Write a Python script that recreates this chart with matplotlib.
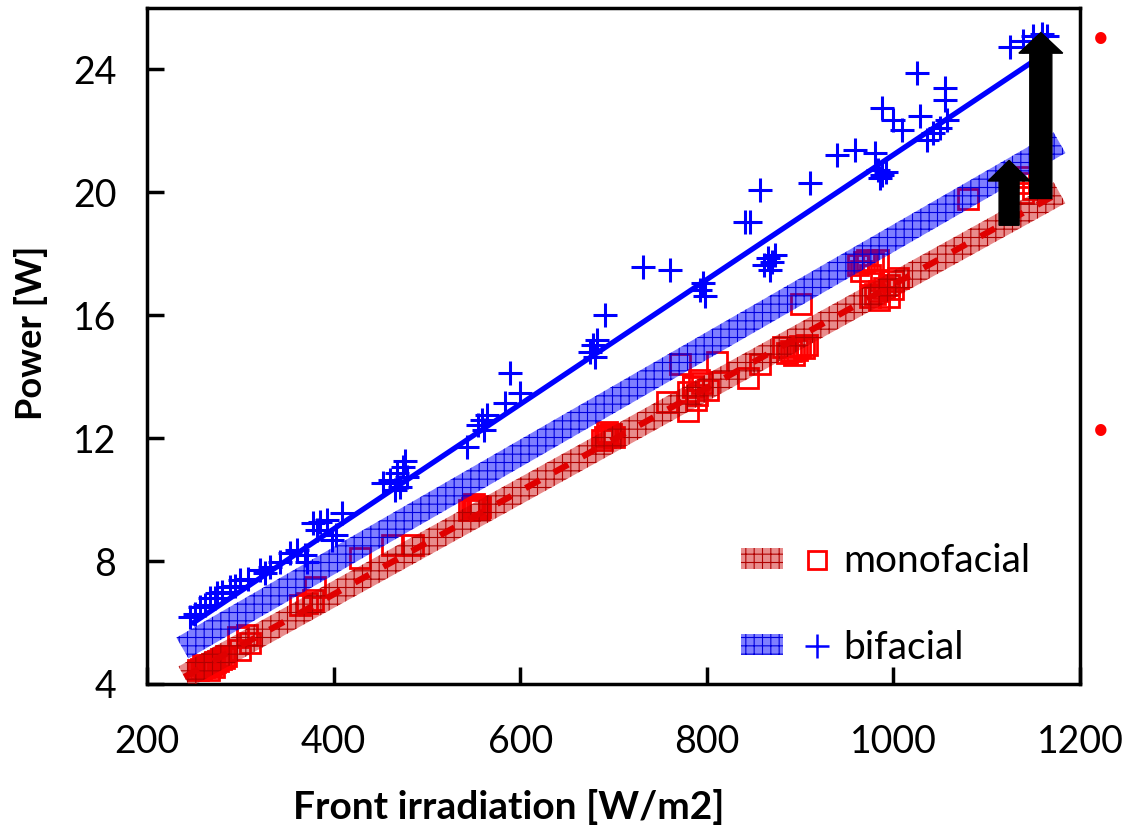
import numpy as np
import matplotlib
matplotlib.use("Agg")
from matplotlib import pyplot as plt
from matplotlib.patches import Polygon, Patch, FancyArrow
from matplotlib.lines import Line2D
from matplotlib.legend_handler import HandlerTuple

plt.rcParams['font.family'] = ['Lato', 'DejaVu Sans']
plt.rcParams['hatch.linewidth'] = 0.8

# bifacial module: front irradiation [W/m2], power [W]
bi_x = [246, 251, 257, 262, 268, 273, 275, 280, 289, 294, 300, 308, 321, 327, 332, 343,
        353, 361, 369, 372, 378, 382, 385, 393, 398, 403, 409,
        453, 460, 466, 468, 471, 474, 479, 476,
        543, 555, 559, 564, 561, 584, 600, 589,
        675, 678, 682, 680, 691, 732, 761, 793, 796, 798,
        841, 846, 861, 866, 870, 873, 868, 857, 911, 940, 959, 980,
        984, 988, 992, 986, 988, 1000, 1009, 1029, 1025, 1055, 1055, 1036, 1042, 1050, 1057,
        1125, 1139, 1150, 1159, 1165]
bi_y = [6.18, 6.28, 6.50, 6.57, 6.80, 6.80, 6.96, 6.99, 7.15, 7.19, 7.38, 7.41, 7.71, 7.61, 7.80, 7.97,
        8.26, 8.36, 8.20, 7.97, 9.24, 9.01, 9.27, 9.33, 8.68, 8.85, 9.56,
        10.54, 10.63, 10.31, 10.86, 10.41, 11.06, 10.73, 11.25,
        11.71, 12.42, 12.59, 12.75, 12.26, 13.14, 13.46, 14.11,
        14.80, 15.02, 15.19, 14.63, 16.00, 17.56, 17.46, 16.81, 17.04, 16.62,
        19.02, 19.02, 17.63, 17.85, 17.72, 17.95, 17.46, 20.07, 20.29, 21.20, 21.37, 21.27,
        20.72, 20.55, 20.65, 20.46, 22.73, 22.34, 22.02, 22.50, 23.90, 23.41, 22.99, 21.69, 21.92, 22.11, 22.34,
        24.72, 24.94, 25.10, 25.17, 25.10]

# monofacial module
mono_x = [255, 258, 261, 264, 267, 270, 273, 276, 279, 282, 260, 266, 272, 285,
          300, 298, 307, 310, 364, 378, 380, 372, 428, 463, 485,
          545, 548, 551, 554, 557, 550, 556,
          688, 691, 694, 697, 700, 693,
          757, 780, 771, 811, 801, 785, 844, 857,
          780, 785, 790, 795, 788, 792,
          882, 886, 890, 897, 900, 904, 907, 893, 901,
          962, 968, 972, 978, 983, 965, 975,
          975, 980, 985, 990, 995, 1000, 1005, 985, 995, 1000,
          1080, 1143, 1139, 1150, 1135]
mono_y = [4.45, 4.50, 4.55, 4.58, 4.62, 4.66, 4.72, 4.75, 4.80, 4.85, 4.62, 4.45, 4.55, 4.92,
          5.10, 5.53, 5.59, 5.33, 6.57, 6.73, 7.15, 6.62, 8.10, 8.52, 8.52,
          9.65, 9.72, 9.76, 9.80, 9.75, 9.85, 9.68,
          11.95, 12.05, 12.10, 12.15, 12.05, 12.20,
          13.17, 12.90, 14.40, 14.47, 13.56, 13.66, 13.95, 14.40,
          13.50, 13.70, 13.40, 13.80, 13.25, 13.90,
          14.96, 14.76, 14.85, 14.86, 15.00, 14.95, 15.02, 14.70, 16.36,
          17.65, 17.75, 17.80, 17.70, 17.80, 17.45, 17.30,
          16.60, 16.70, 16.80, 16.90, 17.00, 17.10, 17.20, 16.50, 16.60, 16.85,
          19.80, 20.50, 19.97, 20.10, 20.30]

# fitted lines / bands (end points)
mono_fit_x = [240, 1178]
mono_fit_y = [4.23, 19.99]
bi_band_x = [238, 1178]
bi_band_y = [5.17, 21.62]
bi_fit_x = [250, 1160]
bi_fit_y = [6.0, 24.47]

# arrows: x, y start, y end
arrow_small = (1124, 18.93, 21.04)
arrow_big = (1158, 19.80, 25.20)

xticks = [200, 400, 600, 800, 1000, 1200]
yticks = [4, 8, 12, 16, 20, 24]

fig = plt.figure(figsize=(11.28, 8.31), dpi=100)
ax = fig.add_axes([147 / 1128, 1 - 684 / 831, 933 / 1128, 676 / 831])
ax.set_xlim(200, 1200)
ax.set_ylim(4, 26)


def band(xs, ys, halfw, face, hatch_col, z):
    p = ax.transData.transform(np.column_stack([xs, ys]))
    d = p[1] - p[0]
    n = np.array([-d[1], d[0]]) / np.hypot(*d) * halfw
    poly = np.array([p[0] + n, p[1] + n, p[1] - n, p[0] - n])
    poly = ax.transData.inverted().transform(poly)
    ax.add_patch(Polygon(poly, closed=True, facecolor=face, edgecolor=hatch_col,
                         hatch='++', linewidth=0, zorder=z))


ax.plot(mono_x, mono_y, 's', ms=15, mfc='none', mec='#ff0000', mew=2, zorder=2)
band(mono_fit_x, mono_fit_y, 12, (0.8, 0.0, 0.0, 0.45), '#b00000', 3)
dl, = ax.plot(mono_fit_x, mono_fit_y, color='#e00000', lw=4.5, zorder=4)
dl.set_dashes([2.6, 2.6])
band(bi_band_x, bi_band_y, 12, (0.0, 0.0, 1.0, 0.5), '#0000dd', 5)
ax.plot(bi_x, bi_y, '+', ms=17, mec='#0000ff', mew=2.2, zorder=6)
ax.plot(bi_fit_x, bi_fit_y, color='#0000ff', lw=3.8, zorder=6)

for (ax_x, y0, y1), w, hw in [(arrow_small, 21.4, 45), (arrow_big, 23.6, 47)]:
    ax.add_patch(FancyArrow(ax_x, y0, 0, y1 - y0, width=w, head_width=hw, head_length=0.67,
                            length_includes_head=True, color='black', zorder=8))

ax.set_xticks(xticks)
ax.set_yticks(yticks)
ax.tick_params(direction='in', length=12, width=2.5, labelsize=27, color='black')
ax.tick_params(axis='x', pad=29)
ax.tick_params(axis='y', pad=22)
for s in ax.spines.values():
    s.set_linewidth(2.5)
ax.set_xlabel('Front irradiation [W/m2]', fontsize=28, fontweight='bold')
ax.xaxis.set_label_coords(0.388, -0.155)
ax.set_ylabel('Power [W]', fontsize=26, fontweight='bold')
ax.yaxis.set_label_coords(-0.106, 0.519)

h_mono = (Patch(facecolor=(0.8, 0, 0, 0.45), edgecolor='#b00000', hatch='++', linewidth=0),
          Line2D([], [], ls='none', marker='s', ms=13, mfc='none', mec='#ff0000', mew=2))
h_bi = (Patch(facecolor=(0, 0, 1, 0.5), edgecolor='#0000dd', hatch='++', linewidth=0),
        Line2D([], [], ls='none', marker='+', ms=17, mec='#0000ff', mew=1.8))
ax.legend([h_mono, h_bi], ['monofacial', 'bifacial'],
          handler_map={tuple: HandlerTuple(ndivide=None, pad=0.36)},
          loc='upper left', bbox_to_anchor=(741 / 1128, 1 - 543 / 831),
          bbox_transform=fig.transFigure, frameon=False, fontsize=28,
          handlelength=2.5, handleheight=0.45, handletextpad=0.12,
          labelspacing=1.3, borderpad=0, borderaxespad=0)

# cut-off slide bullets on the right
for yb in [38, 430]:
    fig.text(1092 / 1128, 1 - yb / 831, '\u2022', color='red', fontsize=22,
             ha='left', va='center')

fig.savefig('out.png', dpi=100)
